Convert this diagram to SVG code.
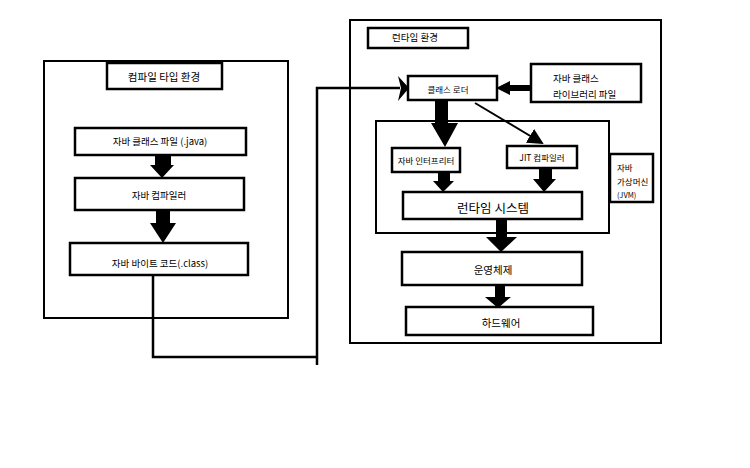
<svg xmlns="http://www.w3.org/2000/svg" width="750" height="468" viewBox="0 0 750 468">
<style>
.box{fill:#fff;stroke:#000;stroke-width:2.5}
.outer{fill:none;stroke:#000;stroke-width:2}
.t{font-family:"Noto Sans CJK KR","Noto Sans",sans-serif;fill:#000;text-anchor:middle;dominant-baseline:central}
.s9{font-size:8.5px}
.s10{font-size:9.5px}
.s11{font-size:10.5px}
.s12{font-size:12.5px}
.ln{fill:none;stroke:#000;stroke-width:2.5}
.blk{fill:#000;stroke:none}
</style>
<defs>
<marker id="ah" markerWidth="8" markerHeight="8" refX="7" refY="4" orient="auto" markerUnits="strokeWidth">
<path d="M0,0 L8,4 L0,8 Z" fill="#000"/>
</marker>
</defs>
<rect width="750" height="468" fill="#fff"/>
<g id="compile-env">
<rect class="outer" x="44" y="61" width="244" height="257"/>
</g>
<g id="compile-title">
<rect class="box" x="107" y="63" width="115" height="26"/>
<text class="t s11" x="164" y="76">컴파일 타입 환경</text>
</g>
<g id="java-source">
<rect class="box" x="75" y="128" width="171" height="27"/>
<text class="t s10" x="160" y="141">자바 클래스 파일 (.java)</text>
</g>
<g id="java-compiler">
<rect class="box" x="75" y="178" width="169" height="32"/>
<text class="t s10" x="159" y="195">자바 컴파일러</text>
</g>
<g id="bytecode">
<rect class="box" x="70" y="243" width="178" height="32"/>
<text class="t s10" x="160" y="263">자바 바이트 코드(.class)</text>
</g>
<g id="runtime-env">
<rect class="outer" x="350" y="20" width="311" height="323"/>
</g>
<g id="runtime-title">
<rect class="box" x="368" y="28" width="100" height="20"/>
<text class="t s10" x="415" y="37">런타임 환경</text>
</g>
<g id="class-loader">
<rect class="box" x="408" y="76" width="89" height="24"/>
<text class="t s9" x="448" y="89">클래스 로더</text>
</g>
<g id="class-library">
<rect class="box" x="531" y="64" width="110" height="38"/>
<text class="t s10" x="553" y="78" style="text-anchor:start">자바 클래스</text>
<text class="t s10" x="553" y="94" style="text-anchor:start">라이브러리 파일</text>
</g>
<g id="jvm">
<rect class="outer" x="376" y="121" width="233" height="112"/>
</g>
<g id="jvm-label">
<rect class="box" x="610" y="154" width="43" height="48"/>
<text class="t s9" x="617" y="167" style="text-anchor:start">자바</text>
<text class="t s9" x="617" y="181" style="text-anchor:start">가상머신</text>
<text class="t" x="617" y="194" style="text-anchor:start;font-size:7.5px">(JVM)</text>
</g>
<g id="interpreter">
<rect class="box" x="392" y="148" width="68" height="24"/>
<text class="t s9" x="426" y="160">자바 인터프리터</text>
</g>
<g id="jit">
<rect class="box" x="507" y="146" width="70" height="22"/>
<text class="t s9" x="542" y="157">JIT 컴파일러</text>
</g>
<g id="runtime-system">
<rect class="box" x="403" y="192" width="179" height="27"/>
<text class="t s12" x="493" y="207">런타임 시스템</text>
</g>
<g id="os">
<rect class="box" x="402" y="252" width="180" height="33"/>
<text class="t s11" x="493" y="269">운영체제</text>
</g>
<g id="hardware">
<rect class="box" x="406" y="307" width="187" height="28"/>
<text class="t s11" x="501" y="322">하드웨어</text>
</g>
<g id="connectors">
<polygon class="blk" points="155,155 171,155 171,165 174,165 162,178 150,165 155,165"/>
<polygon class="blk" points="156,210 170,210 170,223 176,223 163,243 150,223 156,223"/>
<polyline class="ln" points="153,275 153,357 317,357"/>
<polyline class="ln" points="317,365 317,88 400,88"/>
<polygon class="blk" points="398,76 409,88 398,101 401,88"/>
<polygon class="blk" points="531,85 510,85 510,81 496,88 510,95 510,91 531,91"/>
<polygon class="blk" points="435,100 448,100 448,123 458,123 445,147 431,123 435,123"/>
<line x1="475" y1="103" x2="542" y2="143" stroke="#000" stroke-width="2" marker-end="url(#ah)"/>
<polygon class="blk" points="438,172 450,172 450,181 454,181 443,192 433,181 438,181"/>
<polygon class="blk" points="539,168 552,168 552,179 556,179 544,192 533,179 539,179"/>
<polygon class="blk" points="496,219 507,219 507,237 517,237 501,252 486,237 496,237"/>
<polygon class="blk" points="495,285 505,285 505,297 511,297 498,308 485,297 495,297"/>
</g>
</svg>
